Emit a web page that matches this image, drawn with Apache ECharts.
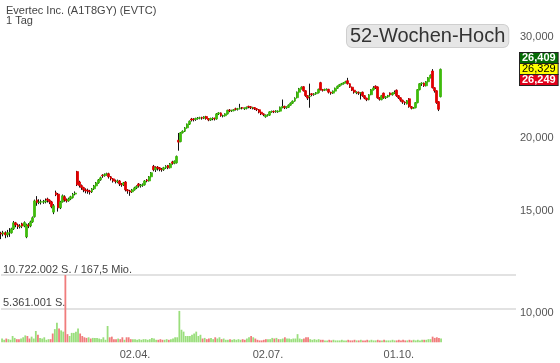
<!DOCTYPE html>
<html>
<head>
<meta charset="utf-8">
<script src="https://cdn.jsdelivr.net/npm/echarts@6/dist/echarts.min.js"></script>
<style>html,body{margin:0;padding:0;background:#fff}#c{width:560px;height:363px}</style>
</head>
<body>
<div id="c"></div>
<script>
// ---- data ----
const slotCount = 244;
const xTickIndex = [63, 126, 188];
const xTickLabels = ['02.04.', '02.07.', '01.10.'];
const priceTicks = [10, 15, 20, 30];
const volTickValues = [5.361001, 10.722002];
const volTickLabels = ['5.361.001 S.', '10.722.002 S. / 167,5 Mio.'];
const quoteLabels = ['26,409', '26,329', '26,249'];
const title = 'Evertec Inc. (A1T8GY) (EVTC)\n1 Tag';
const badge = '52-Wochen-Hoch';

const open = [13.72,13.68,13.74,13.63,13.74,13.74,13.96,14.30,14.18,14.08,
14.24,14.12,13.52,14.18,14.12,14.35,14.65,15.66,15.50,15.54,
15.54,15.54,15.72,15.64,15.54,14.92,16.12,16.03,15.18,15.54,
15.86,15.66,15.60,15.72,15.80,16.03,17.53,16.82,16.58,16.45,
16.30,16.28,16.23,16.17,16.37,16.56,16.76,16.96,17.28,17.24,
17.31,17.38,17.17,17.03,16.89,16.82,16.89,16.69,16.63,16.82,
16.30,16.23,16.17,16.30,16.43,16.69,16.56,16.60,16.63,16.96,
16.89,17.17,17.90,17.66,17.85,17.80,17.70,17.66,17.80,17.95,
17.80,18.22,18.12,18.15,19.86,19.75,20.46,20.58,20.86,21.17,
21.61,21.60,21.56,21.65,21.68,21.74,21.68,21.82,21.65,21.52,
21.65,21.68,21.61,22.05,22.14,21.89,21.89,22.05,22.40,22.33,
22.33,22.50,22.46,22.51,22.59,22.50,22.55,22.72,22.69,22.60,
22.62,22.51,22.42,22.20,22.05,21.80,21.94,21.94,22.23,22.28,
22.23,22.24,22.29,22.64,22.72,22.60,22.64,22.83,23.01,23.20,
23.52,24.04,24.37,24.57,24.18,23.71,23.62,23.89,23.80,23.89,
23.99,24.97,24.28,24.23,24.28,24.32,24.04,23.95,24.14,24.42,
24.62,24.77,24.86,24.95,25.16,24.86,24.52,24.23,23.98,24.04,
23.95,24.04,23.71,23.48,23.33,23.80,24.28,24.62,24.55,23.51,
23.33,23.95,23.51,23.61,23.95,23.80,23.95,24.23,23.71,23.51,
23.29,23.11,22.95,23.42,22.69,22.55,22.60,23.06,24.28,24.86,
24.93,24.66,25.06,25.46,26.15,24.47,24.18,23.15,23.61];
const close = [13.68,13.74,13.63,13.74,13.74,13.96,14.30,14.18,14.08,14.12,
14.12,14.31,14.18,14.12,14.35,14.59,15.60,15.50,15.54,15.54,
15.54,15.60,15.64,15.54,15.24,15.30,15.98,15.18,15.54,15.92,
15.66,15.60,15.72,15.86,16.03,16.09,16.63,16.58,16.45,16.30,
16.23,16.23,16.17,16.37,16.56,16.76,16.96,17.10,17.24,17.31,
17.38,17.17,17.03,16.89,16.86,16.89,16.69,16.63,16.76,16.30,
16.23,16.17,16.30,16.43,16.53,16.56,16.60,16.63,16.89,16.89,
17.17,17.45,17.66,17.80,17.77,17.70,17.66,17.80,17.91,17.80,
18.08,18.12,18.27,18.62,19.71,20.46,20.58,20.86,21.17,21.42,
21.52,21.56,21.65,21.68,21.71,21.68,21.79,21.65,21.52,21.65,
21.65,21.61,22.05,22.14,21.89,21.89,22.05,22.37,22.33,22.33,
22.42,22.46,22.51,22.59,22.57,22.55,22.64,22.69,22.60,22.60,
22.51,22.42,22.20,22.05,21.98,21.94,21.94,22.23,22.26,22.23,
22.32,22.29,22.64,22.71,22.60,22.64,22.83,23.01,23.20,23.48,
24.04,24.37,24.52,24.18,23.71,23.48,23.66,23.80,23.89,23.99,
24.32,24.28,24.23,24.28,24.32,24.04,23.95,24.14,24.42,24.62,
24.77,24.86,24.95,25.06,24.86,24.52,24.23,24.04,24.04,23.95,
23.99,23.71,23.48,23.33,23.80,24.28,24.45,24.47,23.51,23.37,
23.71,23.51,23.61,23.71,23.80,23.95,24.02,23.71,23.51,23.29,
23.11,23.04,23.24,22.69,22.55,22.57,23.06,24.28,24.86,24.93,
24.66,25.06,25.46,25.72,24.47,24.18,23.06,22.46,26.33];
const low = [13.40,13.55,13.45,13.50,13.52,13.70,13.90,14.05,13.95,13.98,
14.00,14.05,13.45,14.00,14.05,14.30,14.60,15.30,15.40,15.38,
15.42,15.45,15.50,15.40,15.15,14.80,15.90,14.95,15.10,15.50,
15.55,15.50,15.55,15.65,15.75,15.95,16.55,16.45,16.30,16.15,
16.08,16.05,16.00,16.10,16.30,16.50,16.70,16.90,17.10,17.18,
17.25,17.05,16.92,16.78,16.72,16.74,16.55,16.50,16.55,16.20,
16.05,15.92,16.10,16.25,16.35,16.45,16.45,16.50,16.58,16.80,
16.85,17.12,17.55,17.50,17.60,17.55,17.52,17.58,17.72,17.70,
17.75,18.02,18.05,18.10,19.05,19.70,20.40,20.52,20.80,21.10,
21.40,21.40,21.45,21.55,21.58,21.55,21.60,21.55,21.42,21.45,
21.50,21.48,21.55,21.95,21.80,21.75,21.82,22.00,22.20,22.22,
22.28,22.35,22.35,22.45,22.45,22.40,22.45,22.55,22.48,22.45,
22.40,22.30,22.10,21.95,21.85,21.72,21.82,21.88,22.15,22.12,
22.15,22.15,22.24,22.55,22.48,22.50,22.58,22.78,22.95,23.15,
23.45,23.98,24.30,24.10,23.60,23.30,22.60,23.65,23.70,23.80,
23.92,24.20,24.10,24.15,24.20,23.92,23.80,23.88,24.10,24.36,
24.55,24.70,24.78,24.90,24.78,24.45,24.15,23.90,23.85,23.78,
23.35,23.60,23.38,23.20,23.28,23.75,24.20,24.35,23.42,23.25,
23.28,23.42,23.40,23.52,23.68,23.72,23.86,23.60,23.40,23.15,
22.95,22.85,22.90,22.60,22.45,22.48,22.55,23.00,24.22,24.65,
24.55,24.60,25.00,25.40,24.40,24.00,22.95,22.30,23.55];
const high = [13.80,13.85,13.82,13.90,14.00,14.02,14.40,14.35,14.25,14.22,
14.30,14.38,14.25,14.28,14.42,14.66,15.68,15.90,15.70,15.68,
15.66,15.75,15.80,15.70,15.60,15.40,16.25,16.10,15.60,16.00,
15.95,15.75,15.80,15.92,16.10,16.20,17.58,16.90,16.65,16.50,
16.40,16.38,16.30,16.42,16.62,16.82,17.02,17.18,17.35,17.40,
17.45,17.45,17.22,17.08,16.98,16.98,16.95,16.75,16.82,16.88,
16.35,16.30,16.36,16.50,16.60,16.75,16.68,16.72,16.95,17.02,
17.22,17.50,18.00,17.90,17.92,17.85,17.78,17.86,17.98,18.00,
18.14,18.30,18.32,18.68,20.44,20.52,20.65,20.92,21.22,21.48,
21.70,21.68,21.72,21.78,21.80,21.80,21.85,21.88,21.68,21.72,
21.75,21.72,22.12,22.20,22.18,21.98,22.10,22.42,22.48,22.42,
22.48,22.60,22.58,22.95,22.66,22.62,22.70,22.78,22.75,22.68,
22.66,22.56,22.48,22.25,22.10,22.00,22.02,22.28,22.34,22.35,
22.38,22.36,22.70,23.35,22.78,22.72,22.90,23.08,23.26,23.55,
24.10,24.45,24.60,24.62,24.22,23.75,24.87,23.95,23.95,24.05,
24.38,25.05,24.35,24.38,24.40,24.36,24.08,24.20,24.48,24.68,
24.84,24.94,25.02,25.15,25.45,24.90,24.58,24.28,24.12,24.10,
24.05,24.10,23.76,23.52,23.85,24.34,24.62,24.70,24.60,23.58,
23.78,24.00,23.68,23.78,24.02,24.02,24.20,24.30,23.76,23.56,
23.34,23.18,23.30,23.48,22.75,22.66,23.12,24.34,24.92,25.00,
24.98,25.12,25.52,25.80,26.35,24.52,24.22,23.20,26.40];
// volume in millions of shares
const volume = [0.6,0.4,0.6,0.5,0.4,1.0,0.7,0.5,0.5,0.6,
0.8,1.1,1.0,0.6,0.9,0.6,1.8,1.2,0.7,0.6,
0.8,0.4,0.5,0.5,1.4,2.1,3.1,2.2,1.9,1.7,
10.722002,1.3,1.0,1.5,1.5,1.7,2.2,1.4,1.0,0.8,
0.7,0.8,0.6,0.7,0.7,0.7,0.6,0.5,0.8,0.4,
2.6,0.8,0.9,0.5,0.5,0.6,0.5,0.8,0.4,0.8,
0.8,0.5,0.5,0.5,0.4,0.5,0.4,0.5,0.5,0.4,
0.5,0.7,0.6,0.4,0.4,0.5,0.4,0.4,0.5,0.4,
0.5,0.6,0.8,0.8,5.0,2.0,1.7,1.0,1.0,1.0,
1.2,1.4,1.7,1.0,1.2,0.6,0.7,0.5,0.6,0.7,
0.5,0.8,0.6,0.8,0.5,0.6,0.4,0.4,0.5,0.4,
0.5,0.4,0.5,0.4,0.5,0.4,0.6,0.8,1.0,0.8,
0.6,0.4,0.3,0.3,0.4,0.5,0.5,0.5,0.7,0.6,
0.7,0.5,0.5,0.6,0.8,0.6,0.6,0.5,0.6,0.6,
1.3,0.6,0.5,0.6,0.8,0.8,0.5,0.4,0.5,0.4,
0.5,0.4,0.4,0.3,0.3,0.4,0.3,0.4,0.3,0.3,
0.3,0.4,0.3,0.3,0.4,0.3,0.3,0.4,0.3,0.3,
0.4,0.3,0.3,0.4,0.3,0.4,0.3,0.3,0.4,0.3,
0.3,0.4,0.3,0.3,0.3,0.4,0.3,0.3,0.4,0.3,
0.4,0.3,0.3,0.4,0.3,0.4,0.3,0.4,0.3,0.4,
0.4,0.4,0.5,0.5,0.9,0.7,0.8,0.7,0.6];

// ---- build options ----
const categories = Array.from({length: slotCount}, (_, i) => String(i));
const UP = '#3fbb0c', DOWN = '#e00000';
const VUP = '#9ade7c', VDOWN = '#f07c7c';
const wickData = open.map((o, i) => [o, close[i], low[i], high[i]]);
const bodyData = open.map((o, i) => [o, close[i], Math.min(o, close[i]), Math.max(o, close[i])]);
const volData = volume.map((v, i) => ({
  value: v,
  itemStyle: {color: (i > 0 && close[i] < close[i - 1]) ? VDOWN : VUP}
}));
const FONT = 'Arial, "Liberation Sans", sans-serif';
const fmtPrice = v => Math.pow(10, v).toFixed(3).replace('.', ',');

const chart = echarts.init(document.getElementById('c'), null, {renderer: 'canvas'});
chart.setOption({
  animation: false,
  backgroundColor: '#fff',
  title: {
    text: title, left: 1, top: 1,
    textStyle: {fontSize: 11, lineHeight: 10, fontWeight: 'normal', color: '#444', fontFamily: FONT}
  },
  grid: [
    {left: 0, right: 44, top: 36.5, bottom: 50.3},
    {left: 0, right: 44, top: 275, bottom: 20.7}
  ],
  xAxis: [
    {type: 'category', gridIndex: 0, data: categories, boundaryGap: true, show: false},
    {type: 'category', gridIndex: 1, data: categories, boundaryGap: true,
      axisLine: {show: false}, axisTick: {show: false}, splitLine: {show: false},
      axisLabel: {
        interval: (idx) => xTickIndex.indexOf(idx) >= 0,
        formatter: (val, idx) => { const k = xTickIndex.indexOf(Number(val)); return k >= 0 ? xTickLabels[k] : ''; },
        color: '#555', fontSize: 11, fontFamily: FONT, margin: 7
      }}
  ],
  yAxis: [
    {type: 'log', logBase: 10, gridIndex: 0, min: priceTicks[0], max: priceTicks[priceTicks.length - 1],
      position: 'right', axisLine: {show: false}, axisTick: {show: false},
      axisLabel: {show: false}, splitLine: {show: false}},
    {type: 'value', gridIndex: 0, position: 'right',
      min: Math.log10(priceTicks[0]), max: Math.log10(priceTicks[priceTicks.length - 1]),
      axisLine: {show: false}, axisTick: {show: false}, splitLine: {show: false},
      axisLabel: {customValues: priceTicks.map(v => Math.log10(v)), formatter: fmtPrice,
        color: '#555', fontSize: 11, fontFamily: FONT, margin: 4}},
    {type: 'value', gridIndex: 1, position: 'left', min: 0, max: volTickValues[1], interval: volTickValues[0],
      axisLine: {show: false}, axisTick: {show: false},
      splitLine: {show: true, showMinLine: false, lineStyle: {color: '#e2e2e2', width: 2}},
      axisLabel: {inside: true, margin: 2, verticalAlign: 'bottom', align: 'left',
        showMaxLabel: true, showMinLabel: false,
        formatter: v => { const k = volTickValues.findIndex(t => Math.abs(t - v) < 1e-3); return k >= 0 ? volTickLabels[k] : ''; },
        color: '#444', fontSize: 11, fontFamily: FONT}}
  ],
  series: [
    {type: 'bar', xAxisIndex: 1, yAxisIndex: 2, data: volData, barWidth: '85%', z: 1},
    {type: 'candlestick', xAxisIndex: 0, yAxisIndex: 0, data: wickData, barWidth: 1, z: 2,
      itemStyle: {color: '#111', color0: '#111', borderColor: '#111', borderColor0: '#111', borderWidth: 1}},
    {type: 'candlestick', xAxisIndex: 0, yAxisIndex: 0, data: bodyData, barWidth: 2.4, z: 3,
      itemStyle: {color: UP, color0: DOWN, borderColor: UP, borderColor0: DOWN, borderWidth: 0.8}}
  ],
  graphic: [
    {type: 'text', left: 346, top: 24, z: 10,
      style: {text: badge, font: '20px ' + FONT, fill: '#333', backgroundColor: '#e6e6e6',
        borderColor: '#cfcfcf', borderWidth: 1, borderRadius: 5, padding: [1, 3, 1, 3]}},
    {type: 'text', left: 519, top: 52, z: 10,
      style: {text: quoteLabels[0], font: 'bold 11px ' + FONT, fill: '#fff', backgroundColor: '#056b05',
        borderColor: '#222', borderWidth: 1, padding: [0, 2, 0, 2], lineHeight: 10}},
    {type: 'text', left: 519, top: 63, z: 10,
      style: {text: quoteLabels[1], font: '11px ' + FONT, fill: '#000', backgroundColor: '#ffff00',
        borderColor: '#222', borderWidth: 1, padding: [0, 2, 0, 2], lineHeight: 10}},
    {type: 'text', left: 519, top: 74, z: 10,
      style: {text: quoteLabels[2], font: 'bold 11px ' + FONT, fill: '#fff', backgroundColor: '#e0001a',
        borderColor: '#222', borderWidth: 1, padding: [0, 2, 0, 2], lineHeight: 10}}
  ]
});
</script>
</body>
</html>
